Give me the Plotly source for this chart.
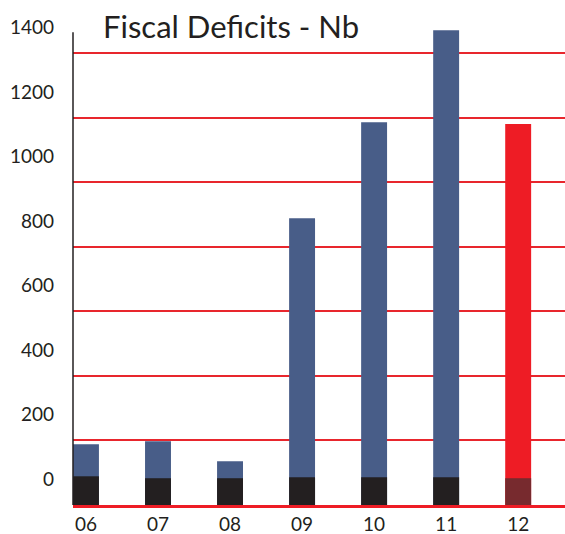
import plotly.graph_objects as go

categories = ["06", "07", "08", "09", "10", "11", "12"]
deficit_top = [108, 118, 56, 809, 1107, 1392, 1101]
lower_top = [9, 3, 3, 6, 6, 6, 3]
axis_floor = -80
y_ticks = [0, 200, 400, 600, 800, 1000, 1200, 1400]
grid_vals = [120, 320, 520, 720, 920, 1120, 1320]

upper_colors = ["#485d88"] * 6 + ["#ee1c25"]
lower_colors = ["#231f20"] * 6 + ["#772a2e"]

xi = list(range(len(categories)))

fig = go.Figure()
fig.add_trace(go.Bar(
    x=xi, y=[v - axis_floor for v in deficit_top], base=axis_floor,
    marker=dict(color=upper_colors, line=dict(width=0)), width=0.36,
    hoverinfo="skip", xaxis="x", yaxis="y"))
fig.add_trace(go.Bar(
    x=xi, y=[v - axis_floor for v in lower_top], base=axis_floor,
    marker=dict(color=lower_colors, line=dict(width=0)), width=0.36,
    hoverinfo="skip", xaxis="x", yaxis="y"))
fig.add_trace(go.Scatter(x=[0], y=[0], mode="markers", marker=dict(opacity=0),
                         hoverinfo="skip", xaxis="x", yaxis="y2"))

yr = [axis_floor, 1402]
font_fam = "Lato, 'Open Sans', sans-serif"

fig.update_layout(
    width=565, height=534,
    margin=dict(l=73, r=0, t=27, b=29),
    plot_bgcolor="white", paper_bgcolor="white",
    barmode="overlay", showlegend=False,
    font=dict(family=font_fam, size=19, color="#231f20"),
    xaxis=dict(
        range=[-0.18, 6.65], tickmode="array", tickvals=xi, ticktext=categories,
        showgrid=False, zeroline=False, showline=True, linecolor="#ee1c25",
        linewidth=3, ticks="", tickfont=dict(size=19, color="#231f20"),
    ),
    yaxis=dict(
        range=yr, tickmode="array", tickvals=y_ticks,
        ticktext=[str(v) for v in y_ticks],
        showgrid=False, zeroline=False, showline=False, ticks="",
        ticklabelstandoff=18, tickfont=dict(size=19, color="#231f20"),
    ),
    yaxis2=dict(
        range=yr, overlaying="y", side="left", tickmode="array",
        tickvals=grid_vals, showticklabels=False, showgrid=True,
        gridcolor="#e8262d", gridwidth=2, zeroline=False, showline=False,
        layer="below traces",
    ),
    shapes=[dict(type="line", xref="paper", yref="y", x0=0, x1=0,
                 y0=axis_floor, y1=1386, line=dict(color="#231f20", width=1.5))],
    annotations=[dict(text="Fiscal Deficits - Nb", xref="paper", yref="paper",
                      x=(101 - 73) / 492, y=1, yshift=1, xanchor="left",
                      yanchor="middle", showarrow=False,
                      font=dict(family=font_fam, size=31, color="#231f20"))],
)

fig.write_html("out.html", config={"displayModeBar": False},
               post_script="document.body.style.margin='0';")
